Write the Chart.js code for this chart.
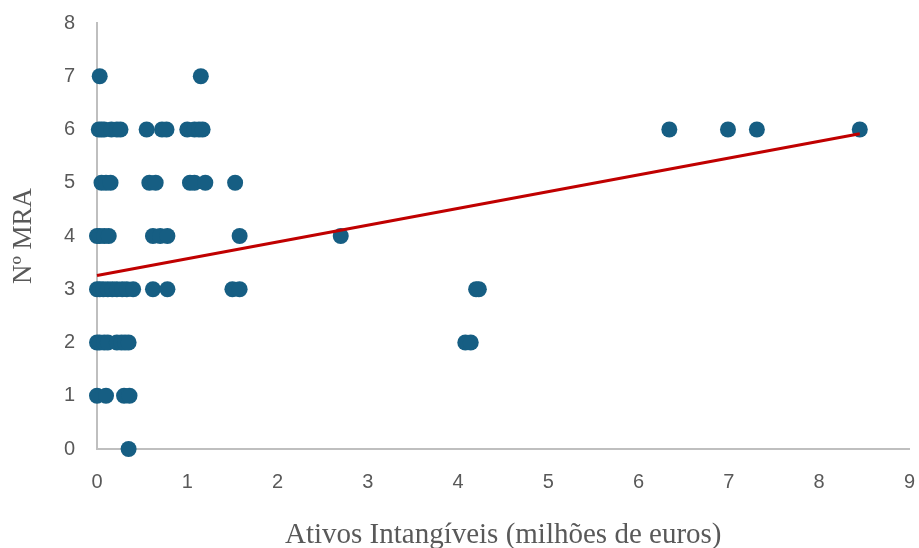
<!DOCTYPE html>
<html>
<head>
<meta charset="utf-8">
<script src="https://cdn.jsdelivr.net/npm/chart.js@4/dist/chart.umd.min.js"></script>
<style>
  html, body { margin: 0; padding: 0; background: #fff; }
  #wrap { width: 919px; height: 548px; }
</style>
</head>
<body>
<div id="wrap"><canvas id="myChart"></canvas></div>
<script>
// intangible assets (millions of euros) and number of MRA
var mra7 = [0.03, 1.15];
var mra6 = [0.02, 0.05, 0.08, 0.16, 0.22, 0.26, 0.55, 0.72, 0.77, 1.0, 1.08, 1.13, 1.17, 6.34, 6.99, 7.31, 8.45];
var mra5 = [0.05, 0.1, 0.15, 0.58, 0.65, 1.03, 1.08, 1.2, 1.53];
var mra4 = [0.0, 0.03, 0.08, 0.13, 0.62, 0.7, 0.78, 1.58, 2.7];
var mra3 = [0.0, 0.03, 0.07, 0.12, 0.17, 0.22, 0.28, 0.33, 0.4, 0.62, 0.78, 1.5, 1.58, 4.2, 4.23];
var mra2 = [0.0, 0.03, 0.08, 0.12, 0.22, 0.27, 0.31, 0.35, 4.08, 4.14];
var mra1 = [0.0, 0.1, 0.3, 0.36];
var mra0 = [0.35];
var trendX = [0, 8.45];
var trendY = [3.26, 5.92];
var xTicks = [0, 1, 2, 3, 4, 5, 6, 7, 8, 9];
var yTicks = [0, 1, 2, 3, 4, 5, 6, 7, 8];

var rows = [[mra0, 0], [mra1, 1], [mra2, 2], [mra3, 3], [mra4, 4], [mra5, 5], [mra6, 6], [mra7, 7]];
var points = [];
rows.forEach(function (r) {
    r[0].forEach(function (x) { points.push({ x: x, y: r[1] }); });
});
var trend = trendX.map(function (x, i) { return { x: x, y: trendY[i] }; });

var grey = '#595959';
// invisible tick marks push the labels away from the axes without inflating the side padding
var hiddenGrid = function (len) {
    return { display: true, drawOnChartArea: false, drawTicks: true, tickLength: len, color: 'rgba(0,0,0,0)' };
};
var ctx = document.getElementById('myChart').getContext('2d');
var myChart = new Chart(ctx, {
    type: 'scatter',
    data: {
        datasets: [{
            label: 'Nº MRA',
            data: points,
            backgroundColor: '#165e83',
            borderWidth: 0,
            pointRadius: 8,
            clip: false,
            order: 2
        },
        {
            type: 'line',
            label: 'Linear',
            data: trend,
            borderColor: '#c00000',
            borderWidth: 3,
            pointRadius: 0,
            fill: false,
            clip: false,
            order: 1
        }]
    },
    options: {
        responsive: true,
        maintainAspectRatio: false,
        animation: false,
        layout: { padding: { top: 23, right: 9, left: 0, bottom: 0 } },
        plugins: {
            legend: { display: false },
            tooltip: { enabled: false }
        },
        scales: {
            x: {
                type: 'linear',
                min: 0,
                max: 9,
                afterBuildTicks: function (s) { s.ticks = xTicks.map(function (v) { return { value: v }; }); },
                grid: hiddenGrid(17),
                border: { color: '#bfbfbf', width: 2 },
                ticks: { color: grey, padding: 4, font: { family: 'Liberation Sans', size: 20 } },
                title: {
                    display: true,
                    text: 'Ativos Intangíveis (milhões de euros)',
                    color: grey,
                    padding: { top: 0, bottom: -2 },
                    font: { family: 'Liberation Serif', size: 29, lineHeight: 1 }
                },
                afterFit: function (s) { s.height = 99; }
            },
            y: {
                min: 0,
                max: 8,
                afterBuildTicks: function (s) { s.ticks = yTicks.map(function (v) { return { value: v }; }); },
                grid: hiddenGrid(18),
                border: { color: '#bfbfbf', width: 2 },
                ticks: { color: grey, padding: 4, font: { family: 'Liberation Sans', size: 20 } },
                title: {
                    display: true,
                    text: 'Nº MRA',
                    color: grey,
                    padding: { top: 10, bottom: 0 },
                    font: { family: 'Liberation Serif', size: 27, lineHeight: 1 }
                },
                afterFit: function (s) { s.width = 97; }
            }
        }
    }
});
</script>
</body>
</html>
